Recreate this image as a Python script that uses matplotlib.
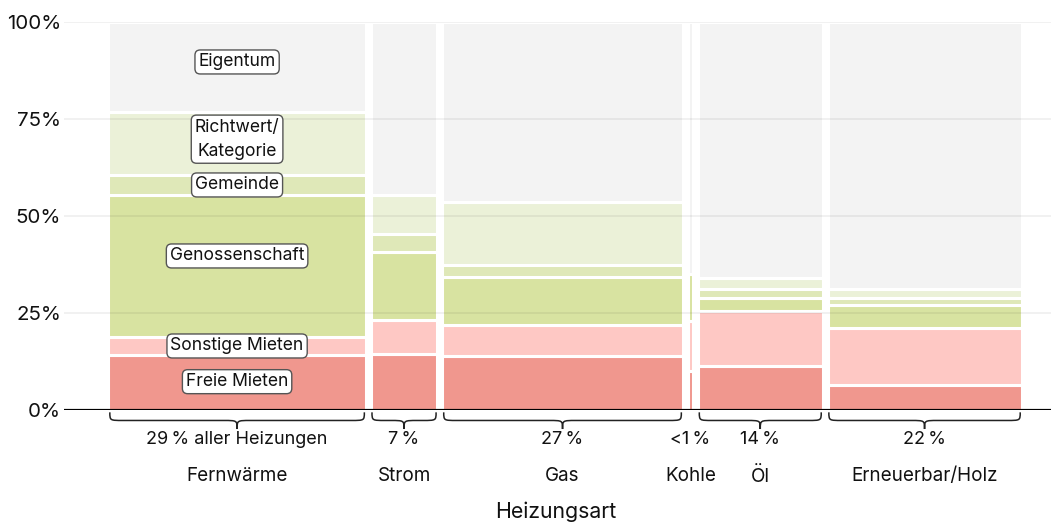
import matplotlib
matplotlib.use("Agg")
import matplotlib.pyplot as plt
from matplotlib.path import Path
from matplotlib.patches import PathPatch
import numpy as np

plt.rcParams['font.family'] = ['Inter', 'DejaVu Sans']

# ---- data ----
categories = ["Fernwärme", "Strom", "Gas", "Kohle", "Öl", "Erneuerbar/Holz"]
shares = [28.9, 7.5, 27.0, 0.6, 14.0, 21.8]
share_labels = ["29\u2009% aller Heizungen", "7\u2009%", "27\u2009%", "<1\u2009%", "14\u2009%", "22\u2009%"]
show_brace = [True, True, True, False, True, True]

segment_names = ["Freie Mieten", "Sonstige Mieten", "Genossenschaft", "Gemeinde",
                 "Richtwert/\nKategorie", "Eigentum"]
freie = [14.2, 14.4, 14.0, 10.0, 11.3, 6.4]
sonstige = [4.6, 8.9, 7.9, 13.0, 14.3, 14.8]
genossenschaft = [36.6, 17.3, 12.5, 12.0, 3.2, 5.9]
gemeinde = [5.2, 4.8, 2.9, 0.0, 2.4, 1.8]
richtwert = [16.2, 10.1, 16.4, 0.0, 2.7, 2.3]
eigentum = [23.2, 44.5, 46.3, 65.0, 66.1, 68.8]
segments = [freie, sonstige, genossenschaft, gemeinde, richtwert, eigentum]

yticks = [0, 25, 50, 75, 100]
ytick_labels = ["0%", "25%", "50%", "75%", "100%"]

# ---- style ----
colors = ["#f0978e", "#fec8c4", "#d8e3a1", "#dfe8b8", "#ebf1d8", "#f3f3f3"]
label_nudge = [0.2, 0.0, 2.6, 0.0, 1.1, 1.3]
gap = 0.56
TXT = '#111111'

fig = plt.figure(figsize=(10.51, 5.24), dpi=100)
ax = fig.add_axes([64 / 1051, 114 / 524, 987 / 1051, 388 / 524])

lefts = []
x = 0.0
for s in shares:
    lefts.append(x)
    x += s + gap
x_end = x - gap

for i, (left, w) in enumerate(zip(lefts, shares)):
    bottom = 0.0
    for j, seg in enumerate(segments):
        h = seg[i]
        if h > 0:
            ax.bar(left, h, width=w, bottom=bottom, align='edge', color=colors[j],
                   edgecolor='white', linewidth=2.2, zorder=2)
        bottom += h

# gridlines
for t in yticks[1:]:
    ax.axhline(t, color='black', alpha=0.07, lw=1.1, zorder=3)
ax.axhline(0, color='black', lw=2.3, zorder=4)

# segment labels in the first column
cx0 = lefts[0] + shares[0] / 2
bottom = 0.0
for j, seg in enumerate(segments):
    h = seg[0]
    ax.text(cx0, bottom + h / 2 + label_nudge[j], segment_names[j], ha='center', va='center',
            fontsize=12.6, color=TXT, zorder=6, linespacing=1.55,
            bbox=dict(boxstyle='round,pad=0.2,rounding_size=0.3', fc='white', ec='#555555', lw=1.0))
    bottom += h


def brace(ax, x0, x1, y0=-0.6, y1=-2.7, y2=-4.9, r=1.5):
    xm = (x0 + x1) / 2
    r = min(r, (x1 - x0) / 4)
    verts = [(x0, y0),
             (x0, y1), (x0, y1), (x0 + r, y1),
             (xm - r, y1),
             (xm, y1), (xm, y1), (xm, y2),
             (xm, y1), (xm, y1), (xm + r, y1),
             (x1 - r, y1),
             (x1, y1), (x1, y1), (x1, y0)]
    codes = [Path.MOVETO,
             Path.CURVE4, Path.CURVE4, Path.CURVE4,
             Path.LINETO,
             Path.CURVE4, Path.CURVE4, Path.CURVE4,
             Path.CURVE4, Path.CURVE4, Path.CURVE4,
             Path.LINETO,
             Path.CURVE4, Path.CURVE4, Path.CURVE4]
    p = PathPatch(Path(verts, codes), fc='none', ec='#222222', lw=1.1, clip_on=False, zorder=5)
    ax.add_patch(p)


for i, (left, w) in enumerate(zip(lefts, shares)):
    cx = left + w / 2
    if show_brace[i]:
        brace(ax, left + 0.15, left + w - 0.15)
    ax.text(cx, -7.7, share_labels[i], ha='center', va='center', fontsize=13,
            color=TXT, clip_on=False)
    ax.text(cx, -17.1, categories[i], ha='center', va='center', fontsize=13.6,
            color=TXT, clip_on=False)

ax.text((lefts[0] + x_end) / 2 - 1.0, -26.3, "Heizungsart", ha='center', va='center',
        fontsize=15.3, color=TXT, clip_on=False)

ax.set_xlim(-5.0, x_end + 3.31)
ax.set_ylim(0, 100)
ax.set_yticks(yticks)
ax.set_yticklabels(ytick_labels, fontsize=14.8, color=TXT)
ax.tick_params(axis='y', length=0, pad=2)
ax.set_xticks([])
for sp in ax.spines.values():
    sp.set_visible(False)

fig.savefig("out.png", dpi=100)
